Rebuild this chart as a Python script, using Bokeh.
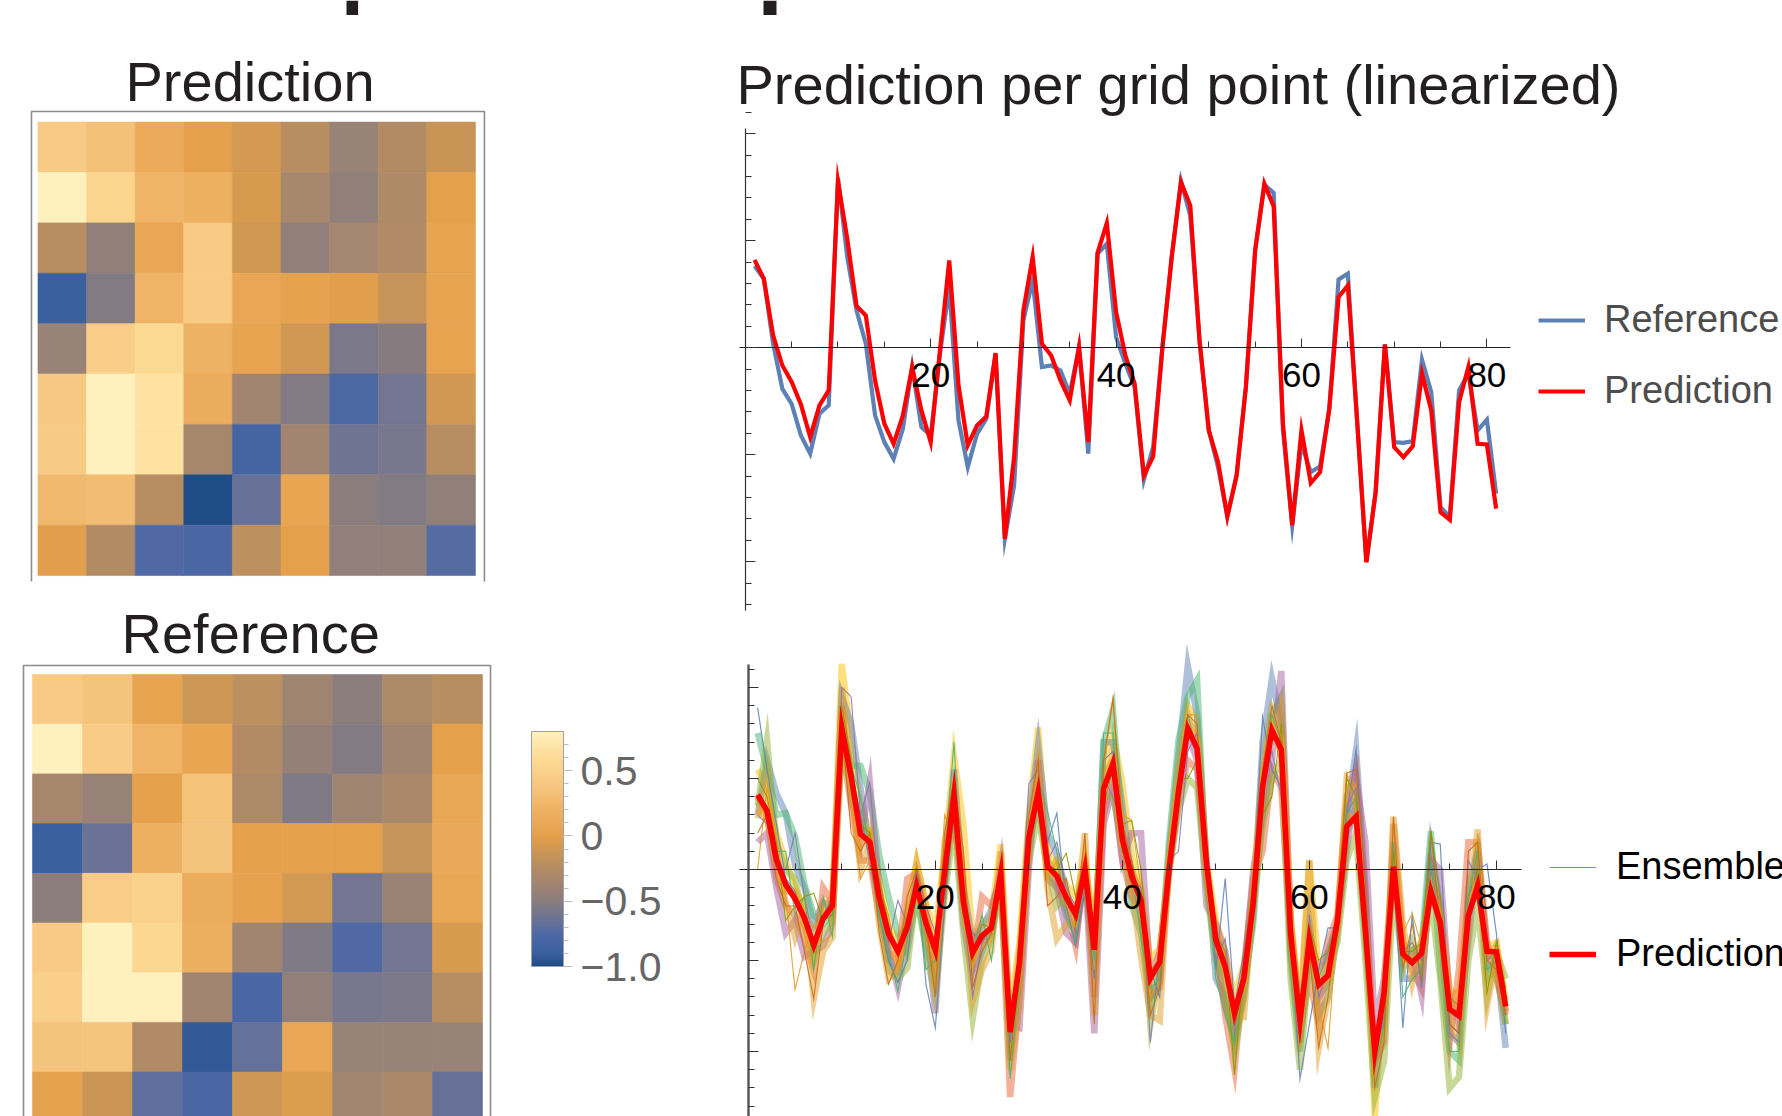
import numpy as np
import pandas as pd
from bokeh.embed import file_html
from bokeh.layouts import column, row
from bokeh.models import (BoxAnnotation, ColorBar, ColumnDataSource, FixedTicker, Label, Legend,
                          LinearColorMapper, Range1d)
from bokeh.plotting import figure
from bokeh.resources import INLINE

FONT = "Liberation Sans"

PRED_HEAT = [
    [.42, .33, .12, .00, -.08, -.22, -.42, -.26, -.14],
    [.80, .52, .22, .18, -.07, -.32, -.46, -.28, .00],
    [-.22, -.46, .08, .42, -.10, -.46, -.34, -.27, .05],
    [-.90, -.53, .22, .42, .08, .03, -.02, -.15, .05],
    [-.42, .46, .58, .20, .05, -.10, -.57, -.52, .04],
    [.40, .80, .66, .14, -.37, -.53, -.77, -.60, -.10],
    [.43, .80, .66, -.33, -.82, -.37, -.62, -.58, -.23],
    [.26, .29, -.23, -1.0, -.65, .06, -.50, -.53, -.46],
    [-.02, -.26, -.75, -.78, -.20, .00, -.47, -.46, -.72],
]
REF_HEAT = [
    [.42, .36, .05, -.12, -.20, -.38, -.50, -.30, -.22],
    [.85, .44, .22, .06, -.26, -.44, -.53, -.37, .00],
    [-.33, -.43, .01, .34, -.30, -.55, -.38, -.31, .07],
    [-.90, -.64, .17, .36, .01, .01, .00, -.15, .10],
    [-.50, .45, .50, .13, .02, -.09, -.60, -.41, .07],
    [.42, .80, .56, .16, -.37, -.55, -.75, -.60, -.07],
    [.47, .80, .85, -.37, -.78, -.46, -.58, -.57, -.22],
    [.36, .37, -.27, -.93, -.66, .08, -.42, -.42, -.42],
    [.03, -.13, -.69, -.78, -.12, -.04, -.36, -.31, -.65],
]
COLOR_STOPS = [-1.0, -.9, -.75, -.6, -.5, -.4, -.25, -.1, 0.0, .2, .4, .6, .8]
COLOR_HEX = ["#1f4c84", "#3a60a0", "#5069a4", "#747690", "#8a7d7c", "#9d8374", "#b38c64",
             "#d09853", "#e5a04b", "#eeb264", "#f7c882", "#fddb95", "#fff1bd"]

PREDICTION = [
    .411, .322, .058, -.083, -.160, -.265, -.417, -.269, -.199, .777,
    .509, .195, .151, -.153, -.355, -.449, -.316, -.090, -.293, -.441,
    -.012, .408, -.176, -.456, -.363, -.321, -.025, -.893, -.511, .174,
    .424, .019, -.036, -.153, -.246, .003, -.441, .444, .583, .167,
    -.036, -.168, -.597, -.508, .003, .424, .774, .665, .034, -.386,
    -.534, -.788, -.597, -.184, .455, .766, .660, -.355, -.830, -.386,
    -.632, -.581, -.285, .237, .291, -.340, -1.002, -.674, .016, -.464,
    -.511, -.461, -.121, -.293, -.768, -.804, -.254, -.090, -.449, -.452,
    -.752,
]
REFERENCE = [
    .382, .322, .019, -.192, -.262, -.410, -.495, -.308, -.269, .794,
    .424, .174, .019, -.316, -.441, -.519, -.379, -.090, -.371, -.410,
    -.028, .283, -.340, -.558, -.402, -.332, -.028, -.893, -.643, .128,
    .315, -.090, -.083, -.106, -.215, .003, -.495, .439, .486, .050,
    -.075, -.184, -.617, -.464, .003, .424, .779, .618, .034, -.386,
    -.558, -.788, -.597, -.184, .455, .763, .723, -.386, -.830, -.449,
    -.581, -.555, -.285, .319, .346, -.340, -1.002, -.674, .016, -.441,
    -.444, -.436, -.056, -.207, -.745, -.791, -.199, -.121, -.386, -.336,
    -.682,
]

THICK_YELLOW = [
    .55, .45, .20, .05, -.10, -.22, -.35, -.20, -.15, 1.13,
    .72, .35, .22, -.05, -.30, -.40, -.28, .04, -.18, -.35,
    .10, .62, .25, -.38, -.30, -.25, .14, -.78, -.40, .30,
    .78, .10, .02, -.08, -.15, .05, -.35, .55, .74, .48,
    .08, -.10, -.50, -.43, .02, .50, .90, .82, .05, -.28,
    -.45, -.70, -.52, -.10, .60, .90, .85, -.25, -.75, .05,
    -.55, -.50, -.28, .35, .40, -.20, -1.36, -.60, .10, -.40,
    -.45, -.40, -.05, -.18, -.65, -.72, -.15, .05, -.42, -.40,
    -.72,
]
THICK_BLUE = [
    .30, .60, .42, .31, .02, -.10, -.30, -.18, -.20, .95,
    .80, .45, .10, -.20, -.50, -.55, -.30, -.05, -.35, -.52,
    -.05, .55, -.10, -.40, -.32, -.22, -.02, -1.05, -.60, .25,
    .68, .20, .08, -.12, -.30, -.05, -.50, .70, .70, .35,
    -.05, -.25, -.70, -.62, .10, .62, 1.12, .85, .04, -.60,
    -.70, -.92, -.70, -.25, .70, 1.05, .80, -.45, -.95, -.30,
    -.70, -.62, -.30, .30, .66, -.10, -1.20, -.78, .15, -.60,
    -.60, -.50, .12, -.20, -.90, -.95, -.10, .10, -.55, -.50,
    -.98,
]
THICK_GREEN = [
    .75, .55, .30, .31, .18, -.08, -.25, -.30, -.25, .80,
    .57, .57, .42, .08, -.15, -.35, -.45, -.15, -.42, -.60,
    -.10, .35, -.20, -.55, -.40, -.35, -.05, -.95, -.62, .15,
    .35, .05, -.05, -.25, -.35, -.02, -.55, .70, .88, .20,
    -.20, -.35, -.75, -.55, .16, .71, .95, 1.04, -.05, -.45,
    -.75, -.95, -.65, -.30, .35, .85, .95, -.50, -1.00, -.35,
    -.80, -.70, -.35, .20, .35, -.40, -1.05, -.80, .05, -.48,
    -.50, -.42, .21, -.55, -1.00, -1.05, -.30, .15, -.60, -.55,
    -.85,
]
THICK_SALMON = [
    .40, .30, -.05, -.20, -.25, -.38, -.55, -.10, -.18, .70,
    .35, .05, .05, -.25, -.45, -.50, -.05, -.02, -.25, -.55,
    .05, .30, -.15, -.50, -.15, -.20, -.05, -1.25, -.70, .10,
    .50, .02, -.10, -.20, -.42, .05, -.70, .30, .50, .05,
    -.15, -.22, -.70, -.65, .00, .35, .60, .55, .00, -.40,
    -.80, -1.10, -.55, -.05, .10, .55, .45, -.40, -.90, -.60,
    -.85, -.40, -.25, .40, .55, -.15, -1.05, -.95, .25, -.40,
    -.55, -.65, .00, -.30, -.95, -.55, .15, .15, -.40, -.60,
    -.80,
]
THICK_PURPLE = [
    .15, .20, -.10, -.35, -.28, -.48, -.45, -.42, -.30, .90,
    .40, .15, .48, -.10, -.45, -.65, -.40, -.05, -.30, -.79,
    .00, .40, -.30, -.60, -.45, -.30, .02, -.85, -.87, .00,
    .60, -.05, -.10, -.35, -.40, .00, -.90, .25, .45, .05,
    .20, .20, -.60, -.45, .00, .40, .75, .60, -.20, -.30,
    -.45, -.85, -.60, .00, .30, .60, 1.09, -.30, -.80, -.45,
    -.55, -.45, -.30, .10, .50, .15, -.85, -.60, .00, -.50,
    -.45, -.69, .05, .00, -.70, -.85, -.40, .10, -.45, -.50,
    -.78,
]
THICK_OLIVE = [
    .35, .71, .15, .00, -.05, -.30, -.50, -.35, -.28, .65,
    .45, .25, .20, -.20, -.55, -.60, -.54, -.10, -.45, -.70,
    -.15, .25, -.35, -.82, -.50, -.38, -.10, -1.00, -.55, .05,
    .30, .00, -.20, -.15, -.22, -.05, -.40, .40, .40, .15,
    .00, -.15, -.85, -.55, -.02, .32, .50, .45, -.10, -.50,
    -.60, -1.00, -.70, -.20, .25, .50, .60, -.60, -1.10, -.50,
    -.60, -.55, -.40, .05, .20, -.50, -1.25, -1.05, -.10, -.55,
    -.40, -.55, -.15, -.60, -1.20, -1.14, -.50, -.20, -.70, -.45,
    -.60,
]
THICK_AMBER = [
    .28, .50, .05, -.18, -.37, -.20, -.71, -.45, -.37, 1.00,
    .50, .00, .15, -.30, -.60, -.55, -.20, .04, -.20, -.65,
    .15, .40, -.05, -.72, -.55, -.45, .10, -1.10, -.75, .20,
    .55, -.10, -.38, -.30, -.30, .20, -.80, .50, .60, .25,
    -.10, -.48, -.80, -.83, .05, .55, .85, .70, .00, -.35,
    -.50, -.80, -.81, -.15, .50, .75, .90, -.30, -.85, .05,
    -.98, -.70, -.32, .50, .45, -.30, -1.05, -.85, .29, -.30,
    -.62, -.40, -.10, -.25, -.80, -.95, -.20, .22, -.75, -.48,
    -.85,
]
THICK_ORANGE = [
    .33, .28, .02, -.12, -.12, -.30, -.48, -.22, -.17, .88,
    .45, .12, .20, -.12, -.33, -.52, -.36, -.04, -.25, -.48,
    -.05, .50, -.22, -.50, -.40, -.28, -.02, -.90, -.45, .22,
    .48, -.02, .05, -.18, -.28, .05, -.38, .48, .62, .12,
    -.02, -.12, -.62, -.48, .05, .47, .82, .72, .02, -.42,
    -.55, -.82, -.62, -.15, .50, .82, .72, -.30, -.88, -.35,
    -.65, -.60, -.30, .30, .28, -.30, -1.05, -.72, .05, -.50,
    -.48, -.50, -.08, -.25, -.72, -.78, -.22, -.05, -.48, -.42,
    -.78,
]
THIN_BLUE = [
    .89, .55, .25, -.05, -.12, -.30, -.38, -.25, -.15, .85,
    .55, .30, .05, -.25, -.50, -.62, -.50, .00, -.63, -.87,
    -.20, .35, -.25, -.35, -.40, -.32, -.05, -.95, -.50, .15,
    .45, .15, .31, -.20, -.42, -.10, -.60, .60, .65, .10,
    .05, -.25, -.55, -.70, .05, .45, .80, .65, .03, -.55,
    -.05, -.75, -.45, -.10, .84, .55, .45, -.35, -1.15, -.85,
    -.55, -.32, -.32, .30, .66, -.10, -.95, -.85, .00, -.87,
    -.25, -.65, .15, .14, -.85, -.90, -.15, .00, .03, -.35,
    -.90,
]
THIN_AMBER = [
    .00, .45, .20, -.15, -.66, -.45, -.30, -.40, -.35, .65,
    .35, -.05, .05, -.10, -.25, -.55, -.20, -.15, -.40, -.50,
    .30, .15, -.15, -.55, -.35, -.40, -.10, -.80, -.50, .10,
    .40, -.05, .05, -.20, -.22, .15, -.55, .55, .94, .30,
    .27, -.10, -.70, -.60, .00, .40, .85, .85, .00, -.30,
    -.55, -.90, -.60, .00, .35, .80, .55, -.25, -1.00, -.30,
    -.75, -.98, -.28, .53, .30, -.35, -1.00, -.70, .29, -.35,
    -.24, -.42, .00, -.30, -.70, -.65, -.35, .20, -.40, -.60,
    -.70,
]
THIN_PURPLE = [
    .30, .25, .00, .00, .20, -.15, -.40, -.25, -.25, 1.00,
    .95, .30, .48, -.15, -.40, -.17, -.30, .00, -.20, -.35,
    -.05, .45, -.20, -.70, -.40, -.30, .00, -.95, -.45, .47,
    .55, .05, .15, -.10, -.20, -.05, -.30, .50, .40, .25,
    -.05, -.10, -.95, -.45, .05, .10, .65, .75, .00, -.50,
    -.38, -.90, -.55, -.15, .45, .65, .40, -.20, -.85, -.25,
    -.70, -.55, -.30, .35, .45, -.35, -1.05, -.80, .10, -.45,
    -.40, -.50, .00, -.30, -.90, -.95, .05, -.05, -.50, -.45,
    -.80,
]
THIN_GREEN = [
    .40, .35, .10, .10, -.25, -.15, -.55, -.15, -.37, .75,
    .57, .40, .10, -.25, -.45, -.67, -.38, -.05, -.55, -.50,
    .05, .70, -.25, -.45, -.25, -.50, -.05, -1.15, -.60, .05,
    .50, .32, .10, -.25, -.40, .00, -.50, .75, .75, .10,
    .00, -.38, -.65, -.60, .05, .55, .85, .65, .00, -.60,
    -.80, -.95, -.65, -.10, .40, .85, .70, -.35, -.90, -.35,
    -.60, -.45, -.25, .30, .40, -.30, -1.10, -.85, .15, -.70,
    -.60, -.55, .05, -.40, -1.00, -1.00, -.15, .10, -.55, -.50,
    -.85,
]
THIN_BROWN = [
    .20, .30, -.05, -.20, -.20, -.45, -.71, -.30, -.15, .80,
    .20, .10, .20, -.35, -.63, -.50, -.15, .00, -.30, -.70,
    .20, .50, .10, -.65, -.45, -.35, .05, -1.05, -.55, .30,
    .60, -.20, -.15, -.05, -.30, .20, -.85, .60, .94, .25,
    .05, -.20, -.80, -.65, .00, .50, .85, .80, .03, -.40,
    -.55, -.85, -.60, -.20, .55, .90, .70, -.30, -.95, -.45,
    -.98, -.70, -.25, .53, .55, -.05, -1.20, -.95, .29, -.55,
    -.30, -.60, .21, -.30, -.85, -.90, .10, .15, -.50, -.55,
    -.80,
]
THIN_OLIVE = [
    .50, .40, .15, -.28, -.20, -.15, -.13, -.28, -.25, .90,
    .60, .25, .20, -.05, -.30, -.45, -.25, -.10, -.30, -.40,
    .10, .45, -.15, -.50, -.30, -.32, -.05, -.90, -.50, .20,
    .40, .02, .00, .09, -.15, .05, -.40, .35, .55, .25,
    .27, .00, -.55, -.50, .00, .50, .50, .60, .02, -.35,
    -.45, -1.13, -.50, -.05, .30, .40, .80, -.30, -.80, -.30,
    -.50, -.45, -.28, .50, .40, -.20, -1.00, -.70, .10, -.45,
    -.45, -.40, .21, -.15, -.70, -.75, -.30, .00, -.68, -.40,
    -.65,
]

THICK_SERIES = [(THICK_YELLOW, "#ffbf00"), (THICK_BLUE, "#5e81b5"), (THICK_GREEN, "#47b66d"),
                (THICK_SALMON, "#ec6235"), (THICK_PURPLE, "#a5609d"), (THICK_OLIVE, "#8fb131"),
                (THICK_AMBER, "#e19c24"), (THICK_ORANGE, "#f89f13")]
THIN_SERIES = [(THIN_AMBER, "#e19c24"), (THIN_PURPLE, "#8778b3"), (THIN_GREEN, "#47b66d"),
               (THIN_BROWN, "#c56e1a"), (THIN_OLIVE, "#929600")]

X_TICKS = [20, 40, 60, 80]
X_MINOR = list(range(5, 85, 5))
Y_TICKS = [-1.0, -.5, 0, .5, 1.0]

scale_v = np.linspace(COLOR_STOPS[0], COLOR_STOPS[-1], 256)
rgb = np.array([[int(h[i:i + 2], 16) for i in (1, 3, 5)] for h in COLOR_HEX], dtype=float)
palette = ["#%02x%02x%02x" % tuple(int(round(np.interp(v, COLOR_STOPS, rgb[:, c]))) for c in range(3))
           for v in scale_v]
mapper = LinearColorMapper(palette=palette, low=COLOR_STOPS[0], high=COLOR_STOPS[-1])


def base_figure(width, height, x_lim, y_lim):
    p = figure(width=width, height=height, x_range=Range1d(*x_lim), y_range=Range1d(*y_lim),
               output_backend="svg", toolbar_location=None,
               min_border_left=0, min_border_right=0, min_border_top=0, min_border_bottom=0)
    p.grid.visible = False
    p.outline_line_color = None
    return p


def title_label(p, text, x, y, size):
    p.add_layout(Label(x=x, y=y, x_units="screen", y_units="screen", text=text, text_font=FONT,
                       text_font_size=size, text_color="#231f20", text_baseline="alphabetic",
                       text_align="left"))


def heatmap(matrix, width, height, x_lim, y_lim, box_x, box_y):
    p = base_figure(width, height, x_lim, y_lim)
    p.axis.visible = False
    df = pd.DataFrame(matrix).stack().reset_index()
    df.columns = ["row", "col", "value"]
    df["row"] = df["row"] + .5
    df["col"] = df["col"] + .5
    src = ColumnDataSource(df)
    p.rect(x="col", y="row", width=1, height=1, source=src,
           fill_color={"field": "value", "transform": mapper},
           line_color={"field": "value", "transform": mapper}, line_width=.6)
    p.multi_line(xs=[[box_x[0], box_x[0], box_x[1], box_x[1]]],
                 ys=[[box_y[1], box_y[0], box_y[0], box_y[1]]],
                 line_color="#8c8c8c", line_width=1.6)
    return p


def style_axes(p, x_bounds, y_bounds, y_color, y_width):
    p.xaxis.fixed_location = 0
    p.yaxis.fixed_location = 0
    p.xaxis.bounds = x_bounds
    p.yaxis.bounds = y_bounds
    p.xaxis.ticker = FixedTicker(ticks=X_TICKS, minor_ticks=X_MINOR)
    p.yaxis.ticker = FixedTicker(ticks=Y_TICKS, minor_ticks=[round(-1.3 + .1 * k, 1) for k in range(25)])
    p.xaxis.major_tick_in = 9
    p.xaxis.major_tick_out = 0
    p.xaxis.minor_tick_in = 6
    p.xaxis.minor_tick_out = 0
    p.yaxis.major_tick_in = 10
    p.yaxis.major_tick_out = 0
    p.yaxis.minor_tick_in = 6
    p.yaxis.minor_tick_out = 0
    p.xaxis.axis_line_color = "#222222"
    p.xaxis.axis_line_width = 1.2
    p.xaxis.major_tick_line_color = "#333333"
    p.xaxis.minor_tick_line_color = "#333333"
    p.yaxis.axis_line_color = y_color
    p.yaxis.axis_line_width = y_width
    p.yaxis.major_tick_line_color = "#333333"
    p.yaxis.minor_tick_line_color = "#333333"
    p.xaxis.major_label_text_font = FONT
    p.xaxis.major_label_text_font_size = "35px"
    p.xaxis.major_label_text_color = "#000000"
    p.xaxis.major_label_standoff = 15
    p.yaxis.major_label_text_font_size = "0px"
    p.yaxis.major_label_text_color = None


def line_legend(p, items, color, x, y, spacing, standoff):
    legend = Legend(items=items, location=(x, y), orientation="vertical", padding=0, margin=0,
                    spacing=spacing, glyph_width=47, glyph_height=40, label_height=40,
                    label_standoff=standoff, border_line_color=None, background_fill_alpha=0,
                    label_text_font=FONT, label_text_font_size="38px", label_text_color=color)
    p.add_layout(legend, "center")


def stem(left, right, top, bottom):
    return BoxAnnotation(left=left, right=right, top=top, bottom=bottom, left_units="screen",
                         right_units="screen", top_units="screen", bottom_units="screen",
                         fill_color="#231f20", fill_alpha=1, line_color=None, level="overlay")


xs = list(range(1, len(PREDICTION) + 1))

heat_top = heatmap(PRED_HEAT, 700, 590, (-.771, 13.63), (9.297, -2.414), (-.134, 9.185), (-.21, 9.12))
title_label(heat_top, "Prediction", 125, 590 - 81, "56px")
heat_top.add_layout(stem(346, 357.6, 590, 575.4))

heat_bot = heatmap(REF_HEAT, 700, 526, (-.64, 13.36), (8.893, -1.69), (-.18, 9.16), (-.18, 8.893))
title_label(heat_bot, "Reference", 121, 526 - 43, "56px")

bar = ColorBar(color_mapper=mapper, location=(531, 150), width=32, height=235, padding=0, margin=0,
               ticker=FixedTicker(ticks=[-1.0, -.5, 0, .5], minor_ticks=[round(-1 + .1 * k, 1) for k in range(18)]),
               major_label_overrides={-1.0: "\u22121.0", -.5: "\u22120.5", 0: "0", .5: "0.5"},
               major_label_text_font=FONT, major_label_text_font_size="41px",
               major_label_text_color="#666666", major_tick_in=0, major_tick_out=9,
               minor_tick_in=0, minor_tick_out=5, major_tick_line_color="#bdbdbd",
               minor_tick_line_color="#bdbdbd", bar_line_color="#9a9fa8", bar_line_width=1,
               label_standoff=8)
heat_bot.add_layout(bar, "center")

top_chart = base_figure(1082, 625, (-4.833, 111.89), (-1.298, 1.623))
style_axes(top_chart, (-.626, 82.6), (-1.227, 1.023), "#333333", 1.2)
title_label(top_chart, "Prediction per grid point (linearized)", 36, 625 - 84, "56px")
r_ref = top_chart.line(xs, REFERENCE, line_color="#5e81b5", line_width=4.2, line_join="miter")
r_pred = top_chart.line(xs, PREDICTION, line_color="#ff0000", line_width=4.2, line_join="miter")
line_legend(top_chart, [("Reference", [r_ref]), ("Prediction", [r_pred])], "#4d4d4d", 838, 213, 28, 19)
top_chart.add_layout(stem(63, 76, 625, 610.4))

bot_chart = base_figure(1082, 491, (-5.11, 110.6), (-1.357, 1.341))
style_axes(bot_chart, (-.94, 82.66), (-1.357, 1.126), "#555555", 2.4)
for values, color in THICK_SERIES:
    bot_chart.line(list(range(1, len(values) + 1)), values, line_color=color, line_width=6.5,
                   line_alpha=.5, line_join="miter")
r_ens = bot_chart.line(list(range(1, len(THIN_BLUE) + 1)), THIN_BLUE, line_color="#5e81b5", line_width=1.2,
                       line_alpha=.85, line_join="miter")
for values, color in THIN_SERIES:
    bot_chart.line(list(range(1, len(values) + 1)), values, line_color=color, line_width=1.1,
                   line_alpha=.9, line_join="miter")
r_pred2 = bot_chart.line(xs, PREDICTION, line_color="#ff0000", line_width=5.6, line_join="miter")
line_legend(bot_chart, [("Ensemble", [r_ens]), ("Prediction", [r_pred2])], "#000000", 849, 141, 44, 20)

layout = row(column(heat_top, heat_bot, spacing=0), column(top_chart, bot_chart, spacing=0), spacing=0)
open("out.html", "w").write(file_html(layout, INLINE))
